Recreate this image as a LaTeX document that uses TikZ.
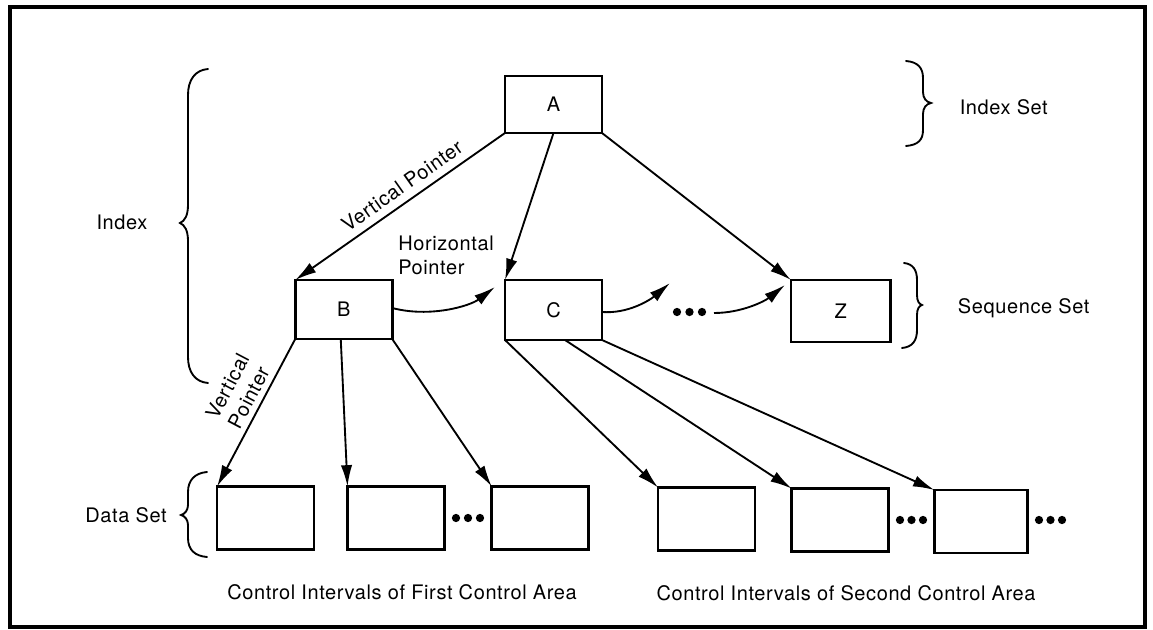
\documentclass[tikz,border=0pt]{standalone}
\usepackage{fontspec}
\setmainfont{TeX Gyre Heros}[LetterSpace=3]
\usetikzlibrary{arrows.meta,calc}
\begin{document}
\begin{tikzpicture}[x=0.75pt,y=-0.75pt,
  every node/.style={font=\fontsize{15}{18}\selectfont},
  box/.style={draw, line width=1.9pt, minimum width=72.75pt, inner sep=0pt, outer sep=0pt},
  dbox/.style={box, minimum height=47.25pt},
  arr/.style={line width=1.4pt, -{Latex[length=16pt,width=8.5pt]}},
  brace/.style={line width=1.4pt, line cap=round},
  lbl/.style={inner sep=0pt},
]
\useasboundingbox (0,0) rectangle (1153,630);
\draw[line width=2.4pt] (10,7) rectangle (1145,627);

% upper boxes
\node[box, minimum height=42.75pt] (A) at (553.5,104.5) {A};
\node[box, minimum height=44.25pt] (B) at (343.75,309.5) {B};
\node[box, minimum height=45pt] (C) at (553.5,310) {C};
\node[box, minimum height=46.5pt, minimum width=74.7pt] (Z) at (840.8,311) {Z};

% lower boxes
\node[dbox] (d1) at (265.6,518) {};
\node[dbox] (d2) at (396,518) {};
\node[dbox] (d3) at (540.2,518) {};
\node[dbox] (d4) at (706.5,519) {};
\node[dbox] (d5) at (840,520) {};
\node[dbox, minimum width=70pt] (d6) at (981,521.5) {};

% dots
\foreach \x/\y in {677/312, 689.5/312, 702/312,
                   456/518, 468/518, 480/518,
                   900/520, 911.5/520, 923/520,
                   1039/520, 1050.5/520, 1062/520}
  \fill (\x,\y) circle (3.1pt);

% arrows from A
\draw[arr] (A.south west) -- (B.north west);
\draw[arr] (A.south) -- (C.north west);
\draw[arr] (A.south east) -- (Z.north west);

% horizontal pointers
\coordinate (bc) at (495,287);
\coordinate (cd) at (670,283);
\coordinate (dz0) at (714,313);
\coordinate (dz) at (785,285);
\draw[arr] ($(B.east)+(0,-1.5)$) .. controls (430,318) and (470,306) .. (bc);
\draw[arr] ($(C.east)+(0,2)$) .. controls (628,314) and (650,300) .. (cd);
\draw[arr] (dz0) .. controls (742,313) and (765,301) .. (dz);

% arrows from B
\draw[arr] (B.south west) -- (d1.north west);
\draw[arr] ($(B.south)+(-3,0)$) -- (d2.north west);
\draw[arr] (B.south east) -- (d3.north west);

% arrows from C
\draw[arr] (C.south west) -- (d4.north west);
\draw[arr] ($(C.south)+(11.5,0)$) -- (d5.north west);
\draw[arr] (C.south east) -- (d6.north west);

% braces
\draw[brace] (208,69) .. controls (195,70) and (188,80) .. (188,95) -- (188,205)
  .. controls (188,215) and (185,221) .. (180,223)
  .. controls (185,225) and (188,231) .. (188,241) -- (188,357)
  .. controls (188,372) and (195,382) .. (208,383);
\draw[brace] (207,472) .. controls (195,473) and (188,480) .. (188,492) -- (188,505)
  .. controls (188,510) and (185,514) .. (181,515)
  .. controls (185,516) and (188,520) .. (188,525) -- (188,538)
  .. controls (188,550) and (195,556) .. (207,557);
\draw[brace] (906,61) .. controls (918,62) and (923,68) .. (923,78) -- (923,92)
  .. controls (923,98) and (926,102) .. (931,103)
  .. controls (926,104) and (923,108) .. (923,114) -- (923,130)
  .. controls (923,140) and (918,145) .. (906,146);
\draw[brace] (904,263) .. controls (913,264) and (917,270) .. (917,280) -- (917,295)
  .. controls (917,301) and (919,304) .. (922,305)
  .. controls (919,306) and (917,309) .. (917,315) -- (917,330)
  .. controls (917,340) and (913,347) .. (902,348);

% labels
\node[lbl] (lindex) at (122,222) {Index};
\node[lbl, anchor=west] (lindexset) at (959.5,107) {Index Set};
\node[lbl, anchor=west] (lseqset) at (957.6,308) {Sequence Set};
\node[lbl] (ldataset) at (126,515) {Data Set};
\node[lbl] (lfirst) at (402,592) {Control Intervals of First Control Area};
\node[lbl] (lsecond) at (846,593) {Control Intervals of Second Control Area};
\node[lbl, rotate=35.2] (lvp1) at (402,186) {Vertical Pointer};
\node[lbl, rotate=62.3, align=center] (lvp2) at (238,392) {Vertical\\Pointer};
\node[lbl, anchor=west, align=left] (lhp) at (398,255) {Horizontal\\Pointer};
\end{tikzpicture}
\end{document}
